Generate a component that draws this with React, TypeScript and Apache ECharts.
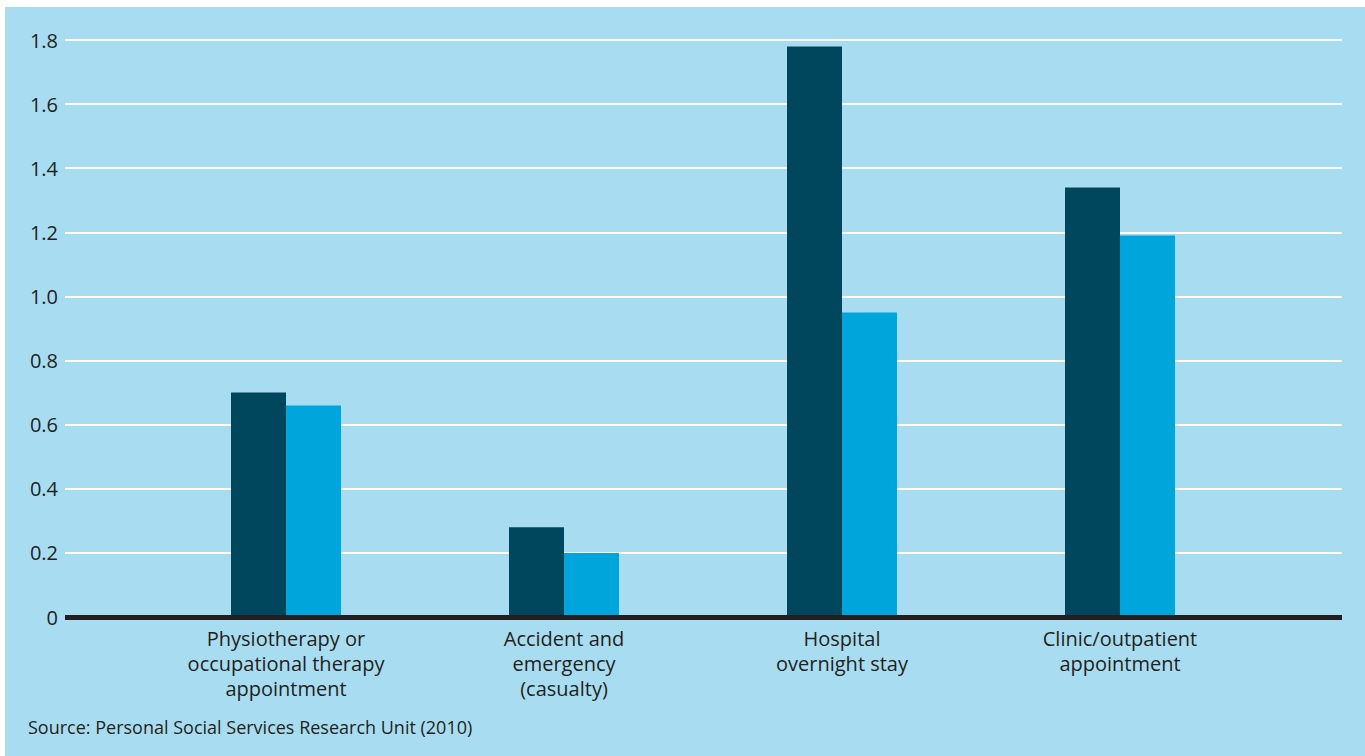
import React, { useEffect, useRef } from "react";
import * as echarts from "echarts";

// Service use per person, by type of service
const categories = [
  "Physiotherapy or\noccupational therapy\nappointment",
  "Accident and\nemergency\n(casualty)",
  "Hospital\novernight stay",
  "Clinic/outpatient\nappointment",
];
const groupOneValues = [0.7, 0.28, 1.78, 1.34];
const groupTwoValues = [0.66, 0.2, 0.95, 1.19];
const yMin = 0;
const yMax = 1.8;
const yStep = 0.2;
const sourceNote = "Source: Personal Social Services Research Unit (2010)";

const FONT = "'Open Sans', 'Noto Sans', sans-serif";
const TEXT = "#231f20";
const PANEL = "#a8ddf1";
const DARK = "#00475e";
const LIGHT = "#00a6db";

export default function App() {
  const ref = useRef<HTMLDivElement>(null);

  useEffect(() => {
    if (!ref.current) return;
    const chart = echarts.init(ref.current, null, { renderer: "svg" });
    chart.setOption({
      animation: false,
      backgroundColor: "#ffffff",
      textStyle: { fontFamily: FONT },
      graphic: [
        {
          type: "rect",
          z: -10,
          shape: { x: 5, y: 7, width: 1360, height: 749 },
          style: { fill: PANEL },
          silent: true,
        },
        {
          type: "text",
          left: 28,
          top: 718,
          style: {
            text: sourceNote,
            fill: TEXT,
            fontSize: 18,
            fontFamily: FONT,
          },
        },
      ],
      grid: [
        // full-width grid: gridlines, value labels and baseline
        { left: 65, right: 23, top: 40, bottom: 139 },
        // grid holding the bars and category labels
        { left: 147, width: 1112, top: 40, bottom: 139 },
      ],
      xAxis: [
        {
          gridIndex: 0,
          type: "value",
          min: 0,
          max: 1,
          z: 5,
          axisLine: { show: true, lineStyle: { color: TEXT, width: 5, cap: "butt" } },
          axisTick: { show: false },
          axisLabel: { show: false },
          splitLine: { show: false },
        },
        {
          gridIndex: 1,
          type: "category",
          data: categories,
          axisLine: { show: false },
          axisTick: { show: false },
          splitLine: { show: false },
          axisLabel: {
            color: TEXT,
            fontSize: 20,
            lineHeight: 25,
            margin: 9,
            fontFamily: FONT,
            interval: 0,
          },
        },
      ],
      yAxis: [
        {
          gridIndex: 0,
          type: "value",
          min: yMin,
          max: yMax,
          interval: yStep,
          axisLine: { show: false },
          axisTick: { show: false },
          axisLabel: {
            color: TEXT,
            fontSize: 20,
            margin: 7,
            fontFamily: FONT,
            formatter: (v: number) => (v === 0 ? "0" : v.toFixed(1)),
          },
          splitLine: { show: true, lineStyle: { color: "#ffffff", width: 2 } },
        },
        {
          gridIndex: 1,
          type: "value",
          min: yMin,
          max: yMax,
          interval: yStep,
          show: false,
          splitLine: { show: false },
        },
      ],
      series: [
        {
          name: "Group 1",
          type: "bar",
          xAxisIndex: 1,
          yAxisIndex: 1,
          data: groupOneValues,
          barWidth: 55,
          barGap: "0%",
          itemStyle: { color: DARK },
        },
        {
          name: "Group 2",
          type: "bar",
          xAxisIndex: 1,
          yAxisIndex: 1,
          data: groupTwoValues,
          barWidth: 55,
          barGap: "0%",
          itemStyle: { color: LIGHT },
        },
      ],
    });
    return () => chart.dispose();
  }, []);

  return (
    <div
      ref={ref}
      style={{ position: "fixed", left: 0, top: 0, width: 1365, height: 756 }}
    />
  );
}
